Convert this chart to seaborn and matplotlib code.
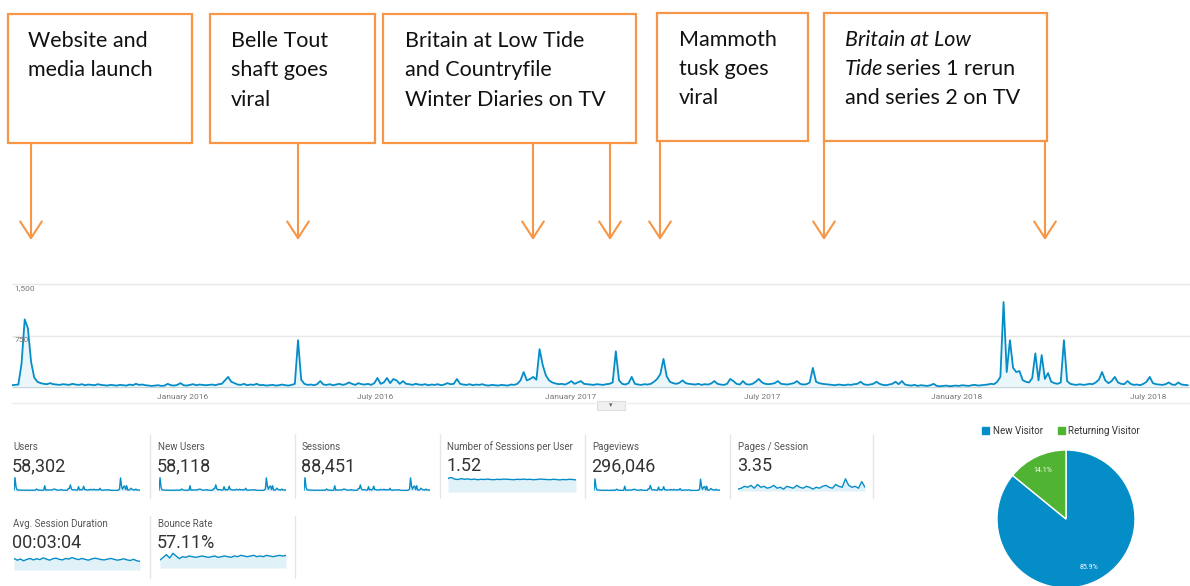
import numpy as np
import pandas as pd
import matplotlib.pyplot as plt
from matplotlib.patches import Rectangle
import seaborn as sns

sns.set_theme(style="white")
plt.rcParams['font.family'] = ['Roboto', 'DejaVu Sans']

W, H = 1190, 586
BLUE = "#058DC7"
GREEN = "#50B432"
ORANGE = "#F79646"

# daily users, one reading every 3 days from 24 Jul 2015
users_2015 = [40, 45, 50, 350, 990, 860, 380, 150, 90, 70,
              60, 55, 70, 55, 50, 45, 55, 50, 45, 60,
              50, 45, 55, 40, 50, 45, 40, 55, 45, 40,
              35, 45, 40, 35, 45, 40, 35, 50, 40, 60,
              45, 50, 40, 35, 30, 35, 40, 30, 35, 60,
              40, 35, 45, 70, 40, 35, 45, 55, 40, 50,
              45, 40]
users_2016a = [45, 50, 40, 55, 60, 110, 160, 90,
               70, 50, 45, 60, 40, 50, 45, 60, 40, 45,
               35, 40, 45, 35, 40, 50, 40, 35, 45, 60,
               690, 120, 60, 45, 50, 40, 55, 100, 50, 45,
               55, 40, 50, 60, 45, 55, 80, 60, 45, 70,
               55, 50, 60, 45, 70, 145, 60, 80, 145, 70,
               130, 110, 60, 100]
users_2016b = [60, 55, 45, 60, 50, 45,
               55, 40, 50, 45, 55, 40, 50, 70, 55, 60,
               130, 60, 50, 45, 55, 40, 50, 45, 55, 40,
               35, 45, 40, 35, 45, 40, 35, 50, 45, 60,
               110, 230, 110, 130, 160, 120, 560, 330, 180, 110,
               80, 65, 55, 60, 50, 70, 100, 60, 80, 100,
               60, 55, 50, 45, 55, 50]
users_2017a = [45, 55, 60, 80,
               530, 110, 60, 50, 70, 160, 60, 50, 45, 55,
               50, 60, 90, 130, 200, 420, 170, 90, 70, 60,
               75, 110, 70, 60, 55, 50, 60, 45, 55, 50,
               65, 100, 60, 50, 45, 60, 130, 100, 60, 50,
               100, 55, 50, 60, 90, 130, 80, 60, 55, 60,
               70, 100, 60, 55, 50, 60, 70, 100]
users_2017b = [60, 50, 55, 80, 290, 90, 70, 60, 55, 50,
               45, 40, 50, 45, 40, 50, 45, 55, 60, 90,
               55, 45, 50, 60, 90, 60, 45, 40, 50, 60,
               90, 55, 100, 50, 40, 35, 45, 30, 40, 35,
               30, 40, 60, 30, 25, 30, 35, 25, 30, 35,
               30, 40, 35, 30, 40, 45, 35, 40, 45, 50,
               60, 55]
users_2018 = [90, 160, 1240, 230, 690, 290, 230, 245, 115, 90,
              80, 140, 500, 110, 475, 130, 215, 90, 70, 60,
              80, 690, 100, 60, 50, 45, 55, 45, 50, 60,
              55, 80, 120, 230, 110, 70, 100, 160, 80, 60,
              55, 100, 60, 45, 50, 40, 60, 90, 160, 70,
              55, 50, 45, 55, 80, 50, 45, 80, 50, 45,
              40]

tick_dates = ["2016-01-01", "2016-07-01", "2017-01-01", "2017-07-01", "2018-01-01", "2018-07-01"]
tick_labels = ["January 2016", "July 2016", "January 2017", "July 2017", "January 2018", "July 2018"]

metric_names = ["Users", "New Users", "Sessions", "Number of Sessions per User",
                "Pageviews", "Pages / Session", "Avg. Session Duration", "Bounce Rate"]
metric_values = ["58,302", "58,118", "88,451", "1.52", "296,046", "3.35", "00:03:04", "57.11%"]

sessions_per_user = [1.55, 1.60, 1.52, 1.50, 1.54, 1.51, 1.53, 1.50, 1.52, 1.49,
                     1.51, 1.50, 1.52, 1.50, 1.49, 1.51, 1.50, 1.52, 1.51, 1.50,
                     1.49, 1.51, 1.50, 1.52, 1.50, 1.51, 1.49, 1.50, 1.52, 1.51,
                     1.50, 1.49, 1.51, 1.50, 1.48, 1.50, 1.49, 1.51, 1.50, 1.48]
pages_per_session = [3.1, 3.2, 3.4, 3.3, 3.5, 3.2, 3.6, 3.3, 3.4, 3.2,
                     3.3, 3.5, 3.2, 3.3, 3.1, 3.4, 3.3, 3.2, 3.5, 3.3,
                     3.2, 3.4, 3.3, 3.1, 3.3, 3.2, 3.4, 3.5, 3.3, 3.2,
                     3.6, 3.4, 3.3, 4.2, 3.5, 3.3, 3.4, 3.2, 3.9, 3.3]
avg_duration = [200, 170, 190, 160, 185, 200, 175, 195, 180, 210,
                190, 170, 195, 205, 185, 175, 200, 190, 215, 195,
                180, 200, 185, 170, 190, 205, 195, 180, 175, 190,
                200, 185, 170, 180, 195, 175, 165, 185, 160, 150]
bounce_rate = [52, 56, 60, 55, 62, 58, 54, 57, 56, 58,
               57, 56, 57, 58, 57, 56, 57, 58, 56, 57,
               58, 57, 56, 58, 57, 59, 58, 57, 58, 59,
               57, 58, 57, 59, 58, 57, 58, 59, 58, 59]

visitor_types = ["New Visitor", "Returning Visitor"]
visitor_share = [85.9, 14.1]


def px_ax(x0, y0, x1, y1):
    return fig.add_axes([x0 / W, 1 - y1 / H, (x1 - x0) / W, (y1 - y0) / H])


def spark(x0, y0, x1, y1, series, lo, hi):
    sp = px_ax(x0, y0, x1, y1)
    xs = np.arange(len(series))
    sns.lineplot(x=xs, y=series, ax=sp, color=BLUE, lw=1)
    sp.fill_between(xs, series, lo, color=BLUE, alpha=0.12, lw=0)
    sp.set_xlim(0, len(series) - 1)
    sp.set_ylim(lo, hi)
    sp.axis("off")


users = users_2015 + users_2016a + users_2016b + users_2017a + users_2017b + users_2018
df = pd.DataFrame({"date": pd.date_range("2015-07-24", periods=len(users), freq="3D"),
                   "users": users})

fig = plt.figure(figsize=(11.9, 5.86), dpi=100)

ov = fig.add_axes([0, 0, 1, 1])
ov.set_xlim(0, W)
ov.set_ylim(H, 0)
ov.axis("off")

# annotation boxes
boxes = [(8, 14, 192, 143), (210, 14, 375, 143), (383, 14, 636, 143),
         (657, 13, 808, 141), (824, 13, 1047, 141)]
for x0, y0, x1, y1 in boxes:
    ov.add_patch(Rectangle((x0, y0), x1 - x0, y1 - y0, fill=False, ec=ORANGE, lw=1.6))

lines = [(28, 41, "Website and"), (28, 70, "media launch"),
         (231, 41, "Belle Tout"), (231, 70, "shaft goes"), (231, 100, "viral"),
         (405, 41, "Britain at Low Tide"), (405, 70, "and Countryfile"), (405, 100, "Winter Diaries on TV"),
         (679, 40, "Mammoth"), (679, 69, "tusk goes"), (679, 98, "viral"),
         (886, 69, "series 1 rerun"), (845, 98, "and series 2 on TV")]
for x, y, s in lines:
    ov.text(x, y, s, fontsize=15.5, family="Lato", color="#111", va="center")
ov.text(845, 40, "Britain at Low", fontsize=15.5, family="Lato", style="italic", color="#111", va="center")
ov.text(845, 69, "Tide", fontsize=15.5, family="Lato", style="italic", color="#111", va="center")

arrows = [(31, 143), (298, 143), (533, 143), (610, 143), (660, 141), (824, 141), (1045, 141)]
for x, y in arrows:
    ov.annotate("", xy=(x, 240), xytext=(x, y),
                arrowprops=dict(arrowstyle="->,head_length=1.0,head_width=0.65",
                                color=ORANGE, lw=1.5, shrinkA=0, shrinkB=0))

# main chart
ax = px_ax(12, 278, 1190, 388)
sns.lineplot(data=df, x="date", y="users", ax=ax, color=BLUE, lw=1.3)
ax.fill_between(df["date"], df["users"], color=BLUE, alpha=0.08, lw=0)
ax.set_xlim(df["date"].iloc[0], df["date"].iloc[0] + pd.Timedelta(days=1112))
ax.set_ylim(0, 1587)
ax.axhline(1500, color="#e8e8e8", lw=1, zorder=0)
ax.axhline(750, color="#e8e8e8", lw=1, zorder=0)
ax.axhline(0, color="#444", lw=1)
ax.set_xticks(pd.to_datetime(tick_dates))
ax.set_xticklabels(tick_labels, fontsize=6, color="#777")
ax.tick_params(axis="x", length=0, pad=4)
ax.set_yticks([])
ax.set_xlabel("")
ax.set_ylabel("")
for s in ax.spines.values():
    s.set_visible(False)
ax.text(0.002, 1490, "1,500", transform=ax.get_yaxis_transform(), fontsize=6, color="#777", va="top")
ax.text(0.002, 740, "750", transform=ax.get_yaxis_transform(), fontsize=6, color="#777", va="top")

ov.plot([12, 1190], [403, 403], color="#eeeeee", lw=1)
ov.add_patch(Rectangle((597, 401), 28, 9, fc="#f1f1f1", ec="#dddddd", lw=0.8))
ov.text(611, 405.5, "▾", fontsize=5, color="#666", ha="center", va="center")

# metric tiles
tile_x = [13, 158, 302, 447, 592, 738, 13, 158]
tile_y = [447, 447, 447, 447, 447, 447, 524, 524]
for name, val, x, y in zip(metric_names, metric_values, tile_x, tile_y):
    ov.text(x, y, name, fontsize=7, color="#555", va="center")
    ov.text(x - 1, y + 19, val, fontsize=13, color="#333", va="center")
for x in [150, 295, 440, 585, 730, 873]:
    ov.plot([x, x], [434, 498], color="#e6e6e6", lw=1)
for x in [150, 295]:
    ov.plot([x, x], [516, 578], color="#e6e6e6", lw=1)

weekly = df.groupby(np.arange(len(df)) // 3)["users"].sum().values
top = weekly.max() * 1.05
spark(14, 477, 140, 491, weekly, 0, top)
spark(159, 477, 286, 491, weekly, 0, top)
spark(304, 477, 430, 491, weekly, 0, top)
spark(448, 477, 576, 492, sessions_per_user, 0.9, 1.62)
spark(594, 477, 720, 491, weekly, 0, top * 1.1)
spark(738, 477, 865, 491, pages_per_session, 2.9, 4.4)
spark(14, 555, 140, 570, avg_duration, 0, 260)
spark(160, 552, 286, 568, bounce_rate, 40, 64)

# pie
ov.add_patch(Rectangle((982, 427), 7, 7, color=BLUE))
ov.text(993, 430.5, visitor_types[0], fontsize=7, color="#333", va="center")
ov.add_patch(Rectangle((1058, 427), 7, 7, color=GREEN))
ov.text(1068, 430.5, visitor_types[1], fontsize=7, color="#333", va="center")

pax = px_ax(997, 450, 1135, 588)
pax.pie(visitor_share, colors=[BLUE, GREEN], startangle=90, counterclock=False,
        autopct="%.1f%%", pctdistance=0.78,
        wedgeprops=dict(edgecolor="white", linewidth=1),
        textprops=dict(color="white", fontsize=5))
pax.set_xlim(-1, 1)
pax.set_ylim(-1, 1)

fig.savefig("out.png", dpi=100)
